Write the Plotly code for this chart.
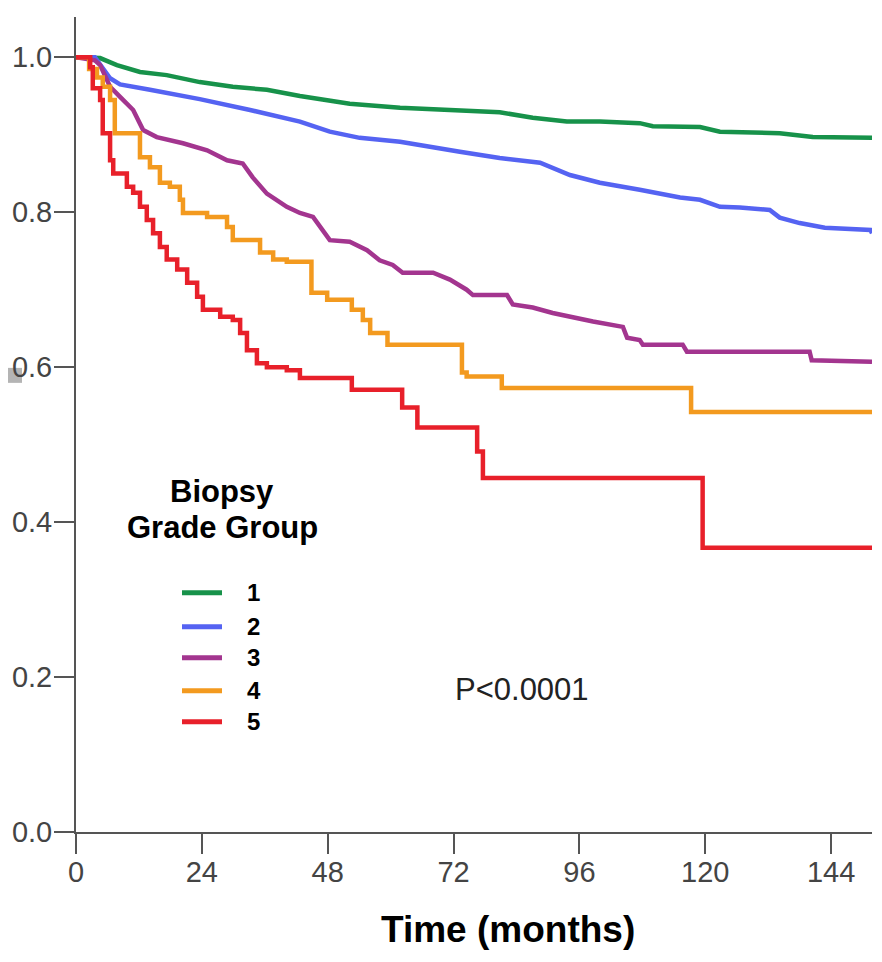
import plotly.graph_objects as go

# ---------------- data ----------------
groups = ["1", "2", "3", "4", "5"]
colors = ["#17924A", "#5563F2", "#A3358F", "#F39A1F", "#E8202A"]

g1_t = [0, 3.6, 4.6, 7.8, 12.2, 17.3, 23.6, 29.9, 36.4, 42.7, 52.2, 61.8, 71.3, 80.8,
        87.1, 93.6, 99.9, 107.5, 110.0, 119.0, 122.8, 134.2, 140.5, 147.0, 151.8]
g1_s = [1.0, 1.0, 0.999, 0.990, 0.981, 0.977, 0.968, 0.962, 0.958, 0.950, 0.940, 0.935,
        0.932, 0.929, 0.922, 0.917, 0.917, 0.915, 0.911, 0.910, 0.904, 0.902, 0.897,
        0.896, 0.896]

g2_t = [0, 3.6, 6.5, 8.4, 14.1, 23.6, 33.2, 42.7, 48.4, 54.1, 61.8, 67.5, 73.2, 80.8,
        88.5, 94.2, 99.9, 107.5, 115.2, 119.0, 122.8, 126.6, 132.3, 134.2, 138.0,
        142.8, 151.5, 151.8]
g2_s = [1.0, 1.0, 0.973, 0.965, 0.958, 0.946, 0.932, 0.917, 0.904, 0.896, 0.891,
        0.884, 0.878, 0.870, 0.864, 0.848, 0.838, 0.829, 0.819, 0.816, 0.807, 0.806,
        0.803, 0.793, 0.786, 0.780, 0.777, 0.773]

g3_t = [0, 3.6, 4.6, 6.5, 8.4, 10.9, 12.8, 15.4, 20.4, 25.0, 28.8, 31.8, 33.7, 36.4,
        40.2, 42.7, 45.2, 48.4, 52.2, 55.5, 57.9, 60.4, 62.3, 68.1, 71.3, 74.5, 75.7,
        82.2, 83.3, 87.1, 90.9, 94.8, 98.6, 104.3, 105.1, 107.5, 108.1, 115.7, 116.5,
        139.9, 140.3, 151.8]
g3_s = [1.0, 0.996, 0.990, 0.962, 0.949, 0.932, 0.906, 0.897, 0.889, 0.880, 0.867,
        0.863, 0.845, 0.824, 0.807, 0.799, 0.794, 0.764, 0.762, 0.751, 0.738, 0.732,
        0.722, 0.722, 0.713, 0.700, 0.693, 0.693, 0.681, 0.677, 0.670, 0.664, 0.659,
        0.652, 0.638, 0.635, 0.629, 0.629, 0.620, 0.620, 0.609, 0.607]

g4_t = [0, 2.5, 4.0, 5.1, 6.5, 7.4, 12.2, 14.1, 16.0, 17.9, 19.8, 20.4, 25.0, 28.8,
        29.9, 35.1, 37.6, 40.2, 44.9, 47.9, 52.6, 54.7, 56.1, 59.4, 73.6, 74.5, 81.2,
        117.3, 151.8]
g4_s = [1.0, 0.985, 0.974, 0.962, 0.945, 0.902, 0.871, 0.858, 0.838, 0.833, 0.816,
        0.799, 0.794, 0.781, 0.764, 0.748, 0.739, 0.736, 0.696, 0.687, 0.674, 0.661,
        0.644, 0.629, 0.593, 0.588, 0.573, 0.542, 0.542]

g5_t = [0, 2.7, 3.2, 4.6, 5.1, 6.5, 7.1, 9.7, 10.9, 12.2, 13.5, 14.7, 16.0, 17.3,
        19.3, 21.2, 23.1, 24.2, 27.5, 29.9, 31.3, 32.6, 34.5, 36.4, 40.2, 42.7, 52.6,
        62.2, 65.1, 76.5, 77.6, 119.5, 151.8]
g5_s = [1.0, 0.987, 0.960, 0.945, 0.902, 0.867, 0.850, 0.833, 0.825, 0.807, 0.790,
        0.773, 0.755, 0.739, 0.726, 0.709, 0.691, 0.674, 0.665, 0.661, 0.644, 0.622,
        0.605, 0.600, 0.596, 0.586, 0.571, 0.548, 0.522, 0.491, 0.457, 0.367, 0.367]

x_ticks = [0, 24, 48, 72, 96, 120, 144]
y_ticks = [0.0, 0.2, 0.4, 0.6, 0.8, 1.0]
x_title = "Time (months)"
legend_title = ["Biopsy", "Grade Group"]
p_text = "P<0.0001"

series = [(g1_t, g1_s, "linear"), (g2_t, g2_s, "linear"), (g3_t, g3_s, "linear"),
          (g4_t, g4_s, "hv"), (g5_t, g5_s, "hv")]

# ---------------- figure ----------------
FONT = "Liberation Sans, Arial, sans-serif"
fig = go.Figure()
for name, col, (t, s, shape) in zip(groups, colors, series):
    fig.add_trace(go.Scatter(x=t, y=s, mode="lines", name=name,
                             line=dict(color=col, width=4.5, shape=shape)))

axis_common = dict(showgrid=False, zeroline=False, showline=True, linecolor="#555",
                   linewidth=2, ticks="outside", ticklen=20, tickwidth=2,
                   tickcolor="#555", automargin=False,
                   tickfont=dict(family=FONT, size=29, color="#444"))

# page has an 8px body margin; plot area in page px: x 76..872, y 17..832.3
PW, PH = 796.0, 815.3
def px(xp):  # page pixel x -> paper
    return (xp - 76) / PW
def py(yp):  # page pixel y -> paper
    return (832.3 - yp) / PH

legend_rows_px = [593, 627, 658, 691, 722]
shapes = []
annotations = []
for name, col, yy in zip(groups, colors, legend_rows_px):
    shapes.append(dict(type="line", xref="paper", yref="paper", x0=px(182), x1=px(222),
                       y0=py(yy), y1=py(yy), line=dict(color=col, width=5)))
    annotations.append(dict(text=name, xref="paper", yref="paper", x=px(245), y=py(yy),
                            xanchor="left", yanchor="middle", showarrow=False,
                            font=dict(family=FONT, size=24, color="black", weight="bold")))
for txt, yy in zip(legend_title, [492, 528]):
    annotations.append(dict(text=txt, xref="paper", yref="paper", x=px(222), y=py(yy),
                            xanchor="center", yanchor="middle", showarrow=False,
                            font=dict(family=FONT, size=31, color="black", weight="bold")))

annotations.append(dict(text=p_text, x=px(521.5), y=py(690), xref="paper", yref="paper",
                        showarrow=False, xanchor="center", yanchor="middle",
                        font=dict(family=FONT, size=31, color="#222")))
annotations.append(dict(text=x_title, x=px(508), y=py(930), xref="paper", yref="paper",
                        showarrow=False, xanchor="center", yanchor="middle",
                        font=dict(family=FONT, size=37, color="black", weight="bold")))

shapes.append(dict(type="rect", xref="paper", yref="paper", x0=px(8), x1=px(22),
                   y0=py(383), y1=py(368), fillcolor="#B4B4B4", line=dict(width=0),
                   layer="below"))

fig.update_layout(
    width=874, height=954,
    margin=dict(l=68, r=10, t=9, b=130),
    plot_bgcolor="white", paper_bgcolor="white",
    xaxis=dict(range=[0, 151.8], tickvals=x_ticks, ticklabelstandoff=-7, **axis_common),
    yaxis=dict(range=[0, 1.052], tickvals=y_ticks, tickformat=".1f",
               ticklabelstandoff=-4, **axis_common),
    showlegend=False,
    annotations=annotations,
    shapes=shapes,
)

fig.write_html("out.html")
